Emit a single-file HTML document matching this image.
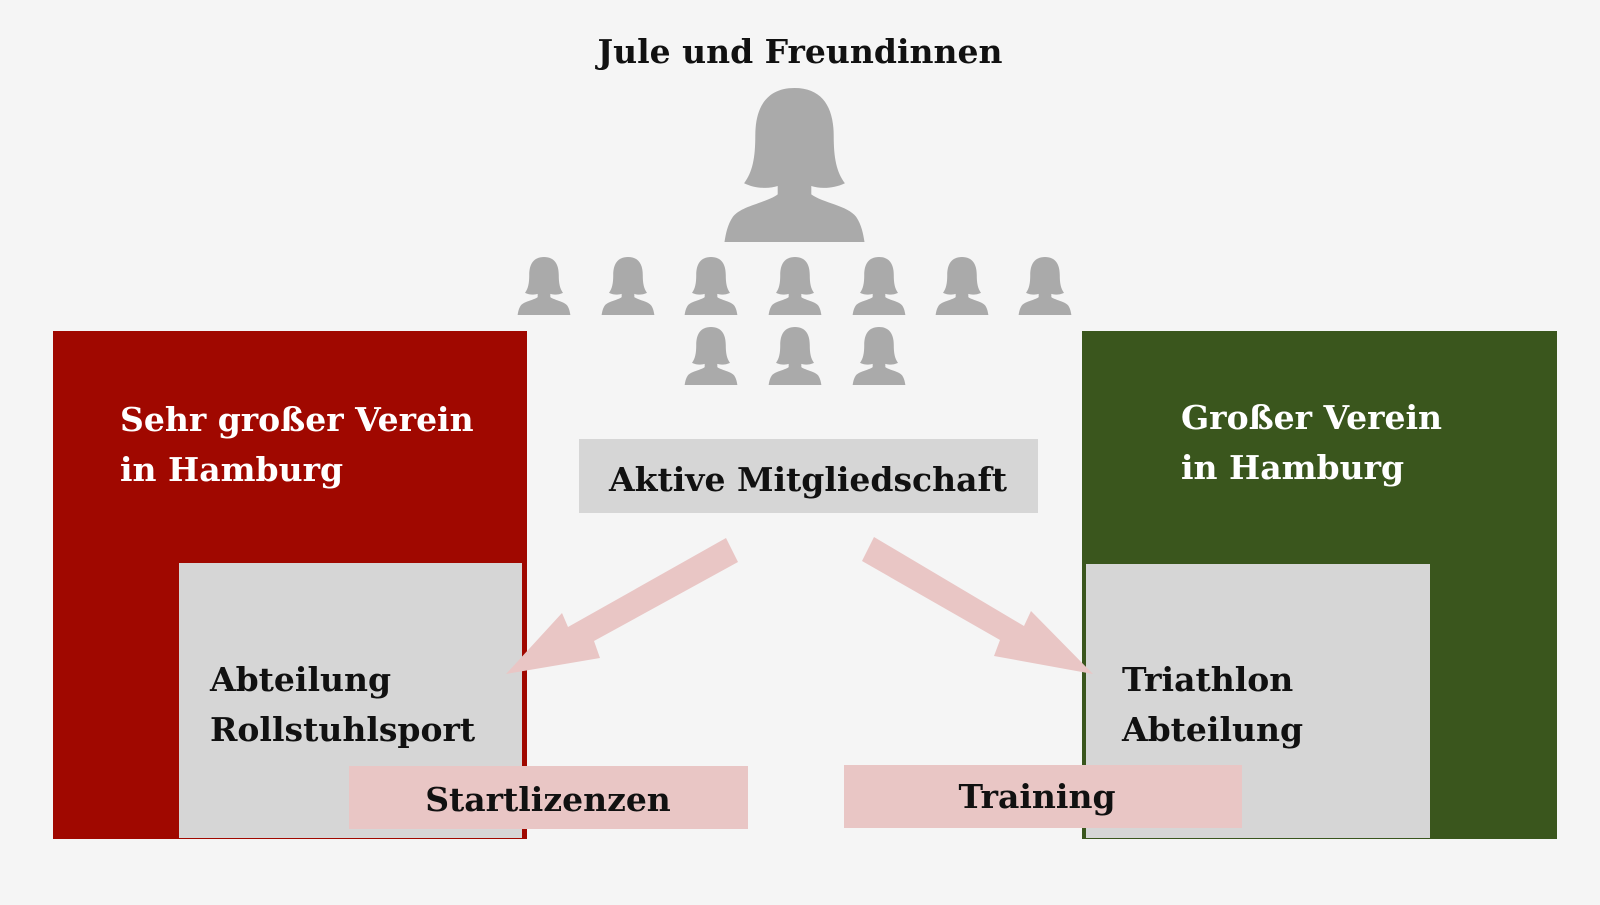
<!DOCTYPE html>
<html><head><meta charset="utf-8"><style>
html,body{margin:0;padding:0;background:#f5f5f5;}
svg text{font-family:"DejaVu Serif","Liberation Serif",serif;font-size:33px;font-weight:bold;}
</style></head><body>
<svg width="1600" height="900" viewBox="0 0 1600 900" xmlns="http://www.w3.org/2000/svg">
<defs>
<symbol id="w" viewBox="0 0 100 110">
<path fill="#aaaaaa" d="M50 0C30 0 22 14 22 34C22 50 20 60 14 68C22 72 32 72 38 70L38 76C30 82 12 84 6 92C2 98 1 104 0 110L100 110C99 104 98 98 94 92C88 84 70 82 62 76L62 70C68 72 78 72 86 68C80 60 78 50 78 34C78 14 70 0 50 0Z"/>
</symbol>
</defs>
<rect width="1600" height="900" fill="#f5f5f5"/>
<text x="800" y="63" text-anchor="middle" fill="#111">Jule und Freundinnen</text>
<use href="#w" x="723" y="88" width="143" height="154"/>
<g>
<use href="#w" x="516" y="257" width="56" height="58"/>
<use href="#w" x="600" y="257" width="56" height="58"/>
<use href="#w" x="683" y="257" width="56" height="58"/>
<use href="#w" x="767" y="257" width="56" height="58"/>
<use href="#w" x="851" y="257" width="56" height="58"/>
<use href="#w" x="934" y="257" width="56" height="58"/>
<use href="#w" x="1017" y="257" width="56" height="58"/>
<use href="#w" x="683" y="327" width="56" height="58"/>
<use href="#w" x="767" y="327" width="56" height="58"/>
<use href="#w" x="851" y="327" width="56" height="58"/>
</g>
<rect x="53" y="331" width="474" height="508" fill="#a00800"/>
<rect x="1082" y="331" width="475" height="508" fill="#3a561d"/>
<rect x="179" y="563" width="343" height="275" fill="#d6d6d6"/>
<rect x="1086" y="564" width="344" height="274" fill="#d6d6d6"/>
<text x="120" y="431" fill="#fff">Sehr großer Verein</text>
<text x="120" y="481" fill="#fff">in Hamburg</text>
<text x="1181" y="429" fill="#fff">Großer Verein</text>
<text x="1181" y="479" fill="#fff">in Hamburg</text>
<text x="210" y="691" fill="#111">Abteilung</text>
<text x="210" y="741" fill="#111">Rollstuhlsport</text>
<text x="1122" y="691" fill="#111">Triathlon</text>
<text x="1122" y="741" fill="#111">Abteilung</text>
<rect x="579" y="439" width="459" height="74" fill="#d6d6d6"/>
<text x="808" y="491" text-anchor="middle" fill="#111">Aktive Mitgliedschaft</text>
<polygon fill="#e9c6c5" points="726,538 738,562 594,641 600,658 506,674 562,613 568,627"/>
<polygon fill="#e9c6c5" points="874,537 862,561 1000,640 994,656 1093,674 1031,611 1024,626"/>
<rect x="349" y="766" width="399" height="63" fill="#e9c6c5"/>
<text x="548" y="811" text-anchor="middle" fill="#111">Startlizenzen</text>
<rect x="844" y="765" width="398" height="63" fill="#e9c6c5"/>
<text x="1037" y="808" text-anchor="middle" fill="#111">Training</text>
</svg>
</body></html>
